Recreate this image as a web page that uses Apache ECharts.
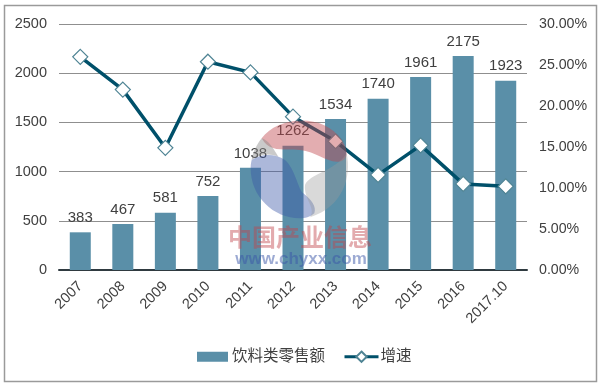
<!DOCTYPE html>
<html><head><meta charset="utf-8">
<style>html,body{margin:0;padding:0;background:#fff}#c{width:600px;height:388px}</style>
<script src="https://cdn.jsdelivr.net/npm/echarts@6/dist/echarts.min.js"></script>
</head><body><div id="c"></div>
<script>
const categories = ['2007','2008','2009','2010','2011','2012','2013','2014','2015','2016','2017.10'];
const sales = [383,467,581,752,1038,1262,1534,1740,1961,2175,1923];
const growth = [26.0,22.0,14.9,25.4,24.1,18.7,15.7,11.6,15.2,10.5,10.2];
const barName = '饮料类零售额';
const lineName = '增速';
const wmTitle = '中国产业信息';
const wmUrl = 'www.chyxx.com';
const font = '"Liberation Sans",Arial,sans-serif';
const cjk = '"Liberation Sans","Noto Sans CJK SC",sans-serif';
const txt = '#404040';
let logoId = 0;
const logo = (d, fill, o) => {
  const name = 'wmShape' + (logoId++);
  echarts.graphic.registerShape(name, echarts.graphic.extendPath(d, {}));
  return {type:name, x:220, y:110, scaleX:1/3, scaleY:1/3, z:100, silent:true, style:{fill:fill, opacity:o}};
};
const legendText = {fontFamily:cjk, fontSize:15.5, color:txt};
const chart = echarts.init(document.getElementById('c'), null, {renderer:'canvas'});
chart.setOption({
  animation:false,
  backgroundColor:'#fff',
  grid:{left:59, right:73, top:24, bottom:118},
  legend:[
    {left:197, top:349, padding:0, itemWidth:31, itemHeight:10, itemGap:0, textStyle:{...legendText, padding:[0,0,0,-1]},
     data:[{name:barName, icon:'rect'}]},
    {left:343, top:349, padding:0, itemWidth:34, itemHeight:13, itemGap:0, textStyle:{...legendText, padding:[0,0,0,-3]},
     lineStyle:{width:3}, data:[lineName]}
  ],
  xAxis:{type:'category', data:categories,
    axisLine:{lineStyle:{color:'#2f3a40', width:2}}, axisTick:{show:false},
    axisLabel:{rotate:45, fontFamily:font, fontSize:14.5, color:txt, margin:14, interval:0}},
  yAxis:[
    {type:'value', min:0, max:2500, interval:500,
     axisLine:{show:false}, axisTick:{show:false},
     splitLine:{lineStyle:{color:'#8f8f8f', width:1}},
     axisLabel:{fontFamily:font, fontSize:14.5, color:txt, margin:12, formatter:v=>String(v)}},
    {type:'value', min:0, max:30, interval:5,
     axisLine:{show:false}, axisTick:{show:false}, splitLine:{show:false},
     axisLabel:{fontFamily:font, fontSize:14.2, color:txt, margin:12, formatter:v=>v.toFixed(2)+'%'}}
  ],
  series:[
    {name:barName, type:'bar', data:sales, barWidth:21, z:2,
     itemStyle:{color:'#5a8fa8'},
     label:{show:true, position:'top', distance:7, fontFamily:font, fontSize:15, color:txt}},
    {name:lineName, type:'line', yAxisIndex:1, data:growth, z:3,
     lineStyle:{color:'#00506a', width:3.5},
     symbol:'diamond', symbolSize:15,
     itemStyle:{color:'#fff', borderColor:'#4f8494', borderWidth:1.2}}
  ],
  graphic:[
    {type:'rect', z:-1, silent:true, shape:{x:4.5,y:5.5,width:592,height:376},
     style:{fill:'#fff', stroke:'#9a9a9a', lineWidth:1.5}},
    logo('M125 85 C170 20 310 5 365 90 C388 125 385 152 355 155 C320 158 290 125 240 120 C190 115 150 130 125 85 Z','#c04a50',0.45),
    logo('M125 85 C105 110 97 135 95 150 C120 130 150 130 175 140 C160 115 145 90 125 85 Z','#8a8a8a',0.45),
    logo('M92 175 C92 165 93 158 95 150 C125 130 165 130 195 150 C225 175 235 240 250 250 C275 270 290 290 283 310 C270 322 255 325 240 325 C160 325 92 260 92 175 Z','#3a56a8',0.42),
    logo('M380 130 C395 200 370 290 270 322 C290 295 250 265 255 225 C270 190 345 185 380 130 Z','#9a9a9a',0.38),
    {type:'text', x:300, y:237, z:100, silent:true,
     style:{text:wmTitle, fill:'#c0454c', opacity:0.45, font:'bold 24px "Noto Sans CJK SC",sans-serif', align:'center', verticalAlign:'middle'}},
    {type:'text', x:301, y:259, z:100, silent:true,
     style:{text:wmUrl, fill:'#3a56a8', opacity:0.5, font:'bold 17px "Liberation Sans",sans-serif', align:'center', verticalAlign:'middle'}}
  ]
});
</script></body></html>
